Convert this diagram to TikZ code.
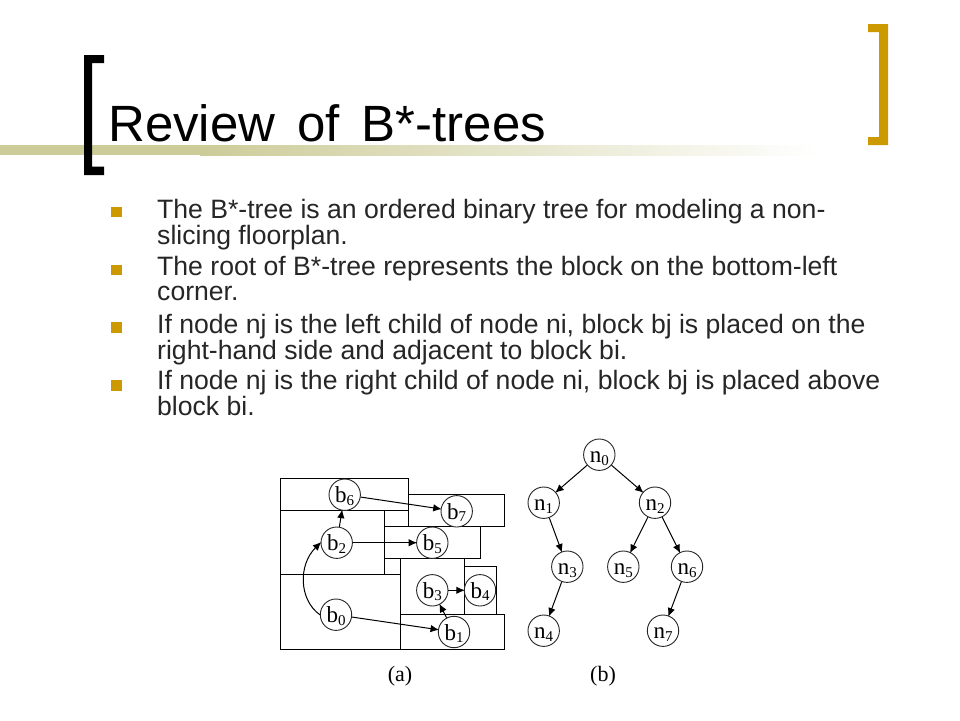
\documentclass[tikz,border=0pt]{standalone}
\usepackage{fontspec}
\setmainfont{Liberation Sans}
\newfontfamily\figserif{Liberation Serif}
\usetikzlibrary{arrows.meta}
\definecolor{bandcol}{HTML}{CCCC99}
\definecolor{goldcol}{HTML}{CC9900}
\definecolor{bodycol}{HTML}{262626}
\newcommand{\lab}[2]{#1\raisebox{-2.5pt}{\fontsize{15}{15}\selectfont #2}}
\tikzset{
  x=1pt,y=-1pt,
  titletext/.style={anchor=base west,inner sep=0pt,font=\fontsize{51}{51}\selectfont,text=black},
  bodytext/.style={anchor=north west,inner sep=0pt,align=left,text=bodycol,font=\fontsize{26.6}{24.7}\selectfont},
  bulletmark/.style={fill=goldcol,draw=none},
  blockbox/.style={draw=black,line width=1.6pt},
  circ/.style={circle,draw=black!85,line width=0.9pt,minimum size=31.4pt,inner sep=0pt,text height=16pt,text depth=0pt,font=\figserif\fontsize{23}{23}\selectfont},
  conn/.style={draw=black,line width=1pt,-{Latex[length=8.5pt,width=7.5pt]},shorten >=-1pt},
  caption/.style={inner sep=0pt,font=\figserif\fontsize{22}{22}\selectfont}
}
\begin{document}
\begin{tikzpicture}
\useasboundingbox (0,0) rectangle (960,720);
\fill[white] (0,0) rectangle (960,720);
% band
\fill[bandcol] (0,145) rectangle (200.5,155);
\shade[left color=bandcol,right color=white,shading angle=90] (200,145) rectangle (820,155);
% brackets
\fill[black] (104,55) -- (84,55) -- (84,175) -- (104,175) -- (104,166.5) -- (92,166.5) -- (92,63) -- (104,63) -- cycle;
\fill[goldcol] (868,24) -- (888,24) -- (888,145) -- (868,145) -- (868,137) -- (879,137) -- (879,32) -- (868,32) -- cycle;
% title
\node[titletext] (title) at (108,141.5) {\spaceskip=22pt\relax Review of B*-trees};
% bullets
\fill[bulletmark] (111,206.5) rectangle (122,217);
\fill[bulletmark] (111,264.5) rectangle (122,275);
\fill[bulletmark] (111,322) rectangle (122,332.5);
\fill[bulletmark] (111,380) rectangle (122,390.5);
% body
\node[bodytext] (p1) at (157,199) {The B*-tree is an ordered binary tree for modeling a non-\\slicing floorplan.};
\node[bodytext] (p2) at (157,256) {The root of B*-tree represents the block on the bottom-left\\corner.};
\node[bodytext] (p3) at (157,314) {If node nj is the left child of node ni, block bj is placed on the\\right-hand side and adjacent to block bi.};
\node[bodytext] (p4) at (157,370.5) {If node nj is the right child of node ni, block bj is placed above\\block bi.};
% blocks
\draw[blockbox] (280.5,478.5) rectangle (408.5,510.5);
\draw[blockbox] (408.5,494.5) rectangle (504.5,526.5);
\draw[blockbox] (280.5,510.5) rectangle (384.5,574.5);
\draw[blockbox] (384.5,526.5) rectangle (480.5,558.5);
\draw[blockbox] (280.5,574.5) rectangle (400.5,649.5);
\draw[blockbox] (400.5,558.5) rectangle (464.5,614.5);
\draw[blockbox] (464.5,566.5) rectangle (496.5,614.5);
\draw[blockbox] (400.5,614.5) rectangle (504.5,649.5);
% block circles
\node[circ,fill=white] (b6) at (344.7,494.7) {\lab{b}{6}};
\node[circ,fill=white] (b7) at (456.7,511.3) {\lab{b}{7}};
\node[circ,fill=white] (b2) at (336.7,542.7) {\lab{b}{2}};
\node[circ,fill=white] (b5) at (432.3,542.7) {\lab{b}{5}};
\node[circ,fill=white] (b3) at (432.3,590.3) {\lab{b}{3}};
\node[circ,fill=white] (b4) at (480,590.3) {\lab{b}{4}};
\node[circ,fill=white] (b0) at (336,614.7) {\lab{b}{0}};
\node[circ,fill=white] (b1) at (454,632) {\lab{b}{1}};
\draw[conn] (b0) -- (b1);
\draw[conn] (b0.180) .. controls (299,600) and (298,565) .. (b2.west);
\draw[conn] (b2) -- (b6);
\draw[conn] (b2) -- (b5);
\draw[conn] (b6) -- (b7);
\draw[conn] (b1) -- (b3);
\draw[conn] (b3) -- (b4);
% tree
\node[circ] (n0) at (599.3,454.7) {\lab{n}{0}};
\node[circ] (n1) at (543.7,502.7) {\lab{n}{1}};
\node[circ] (n2) at (655,502.7) {\lab{n}{2}};
\node[circ] (n3) at (567.3,566.7) {\lab{n}{3}};
\node[circ] (n5) at (623.3,566.7) {\lab{n}{5}};
\node[circ] (n6) at (687,566.7) {\lab{n}{6}};
\node[circ] (n4) at (543.7,630.7) {\lab{n}{4}};
\node[circ] (n7) at (663,630.7) {\lab{n}{7}};
\draw[conn] (n0) -- (n1);
\draw[conn] (n0) -- (n2);
\draw[conn] (n1) -- (n3);
\draw[conn] (n2) -- (n5);
\draw[conn] (n2) -- (n6);
\draw[conn] (n3) -- (n4);
\draw[conn] (n6) -- (n7);
\node[caption] (capa) at (400,676) {(a)};
\node[caption] (capb) at (603,676) {(b)};
\end{tikzpicture}
\end{document}
